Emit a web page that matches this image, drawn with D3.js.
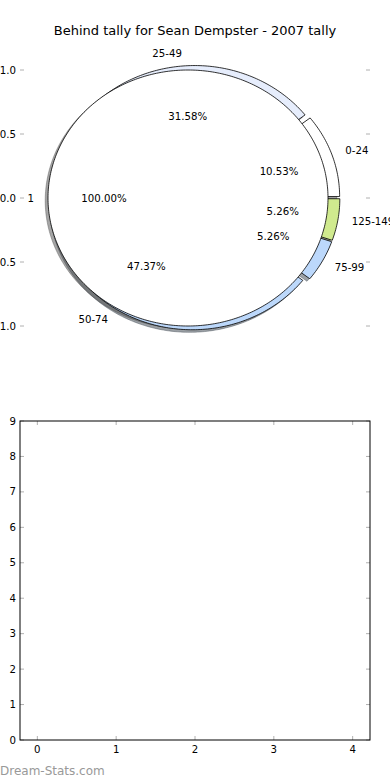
<!DOCTYPE html>
<html>
<head>
<meta charset="utf-8">
<script src="https://cdn.jsdelivr.net/npm/d3@7"></script>
<style>
  html, body { margin: 0; padding: 0; background: #fff; }
  svg { display: block; font-family: "DejaVu Sans", sans-serif; }
</style>
</head>
<body>
<svg id="chart" width="390" height="780"></svg>
<script>
// ---- data ----
const title = "Behind tally for Sean Dempster - 2007 tally";
const outerCategories = ["0-24", "25-49", "50-74", "75-99", "125-149"];
const outerValues = [2, 6, 9, 1, 1];
const outerColors = ["#ffffff", "#e6edfc", "#bcd8fb", "#bcd8fb", "#d0ea8e"];
const innerCategories = ["1"];
const innerValues = [19];
const innerColors = ["#ffffff"];
const pieYTicks = [-1.0, -0.5, 0.0, 0.5, 1.0];
const barXTicks = [0, 1, 2, 3, 4];
const barYTicks = [0, 1, 2, 3, 4, 5, 6, 7, 8, 9];
const watermark = "Dream-Stats.com";

// ---- setup ----
const svg = d3.select("#chart");
const tickColor = "#b0b0b0";
const fs = 10.2;

// title
svg.append("text").attr("x", 195).attr("y", 30).attr("text-anchor", "middle")
  .attr("dominant-baseline", "central").attr("font-size", 13).attr("fill", "#000").text(title);

// ---- pie axes ----
const px = d3.scaleLinear().domain([-1.25, 1.25]).range([20, 370]);
const py = d3.scaleLinear().domain([-1.25, 1.25]).range([358, 38]);

const gPie = svg.append("g");
pieYTicks.forEach(t => {
  gPie.append("line").attr("x1", 20).attr("x2", 24).attr("y1", py(t)).attr("y2", py(t))
    .attr("stroke", tickColor).attr("stroke-width", 1);
  gPie.append("line").attr("x1", 366).attr("x2", 370).attr("y1", py(t)).attr("y2", py(t))
    .attr("stroke", tickColor).attr("stroke-width", 1);
  gPie.append("text").attr("x", 16).attr("y", py(t)).attr("text-anchor", "end")
    .attr("dominant-baseline", "central").attr("font-size", fs)
    .text(t.toFixed(1).replace("-", "\u2212"));
});

function wedgeData(values, categories, colors, radius, explode) {
  const total = d3.sum(values);
  const pie = d3.pie().sort(null).value(d => d).startAngle(0).endAngle(2 * Math.PI);
  return pie(values).map((p, i) => {
    const a0 = p.startAngle, a1 = p.endAngle, am = (a0 + a1) / 2;
    const cx = explode * Math.cos(am), cy = explode * Math.sin(am);
    return { a0, a1, am, cx, cy, r: radius, cat: categories[i], color: colors[i],
             pct: values[i] / total * 100 };
  });
}
function wedgePts(w, dx, dy) {
  const pts = [];
  const full = (w.a1 - w.a0) >= 2 * Math.PI - 1e-9;
  if (!full) pts.push([w.cx + dx, w.cy + dy]);
  const n = Math.max(8, Math.ceil((w.a1 - w.a0) / (Math.PI / 180)));
  for (let k = 0; k <= n; k++) {
    const a = w.a0 + (w.a1 - w.a0) * k / n;
    pts.push([w.cx + dx + w.r * Math.cos(a), w.cy + dy + w.r * Math.sin(a)]);
  }
  return pts;
}
const lineGen = d3.line().x(d => px(d[0])).y(d => py(d[1]));
function shadowColor(c) {
  const rgb = d3.rgb(c);
  return `rgba(${Math.round(rgb.r * 0.3)},${Math.round(rgb.g * 0.3)},${Math.round(rgb.b * 0.3)},0.5)`;
}

const outer = wedgeData(outerValues, outerCategories, outerColors, 1.0, 0.035);
const inner = wedgeData(innerValues, innerCategories, innerColors, 1.0, 0.05);
const all = outer.concat(inner);

all.forEach(w => {
  const sc = shadowColor(w.color);
  gPie.append("path").attr("d", lineGen(wedgePts(w, -0.02, -0.02)) + "Z")
    .attr("fill", sc).attr("stroke", sc).attr("stroke-width", 0.8);
});
all.forEach(w => {
  gPie.append("path").attr("d", lineGen(wedgePts(w, 0, 0)) + "Z")
    .attr("fill", w.color).attr("stroke", "#000").attr("stroke-width", 0.8)
    .attr("stroke-linejoin", "round");
});
all.forEach(w => {
  const lx = w.cx + 1.1 * w.r * Math.cos(w.am), ly = w.cy + 1.1 * w.r * Math.sin(w.am);
  gPie.append("text").attr("x", px(lx)).attr("y", py(ly))
    .attr("text-anchor", lx > 0 ? "start" : "end").attr("dominant-baseline", "central")
    .attr("font-size", fs).text(w.cat);
  const tx = w.cx + 0.6 * w.r * Math.cos(w.am), ty = w.cy + 0.6 * w.r * Math.sin(w.am);
  gPie.append("text").attr("x", px(tx)).attr("y", py(ty))
    .attr("text-anchor", "middle").attr("dominant-baseline", "central")
    .attr("font-size", fs).text(w.pct.toFixed(2) + "%");
});

// ---- bottom axes ----
const bx = d3.scaleLinear().domain([-0.22, 4.22]).range([20, 370]);
const by = d3.scaleLinear().domain([0, 9]).range([740, 421]);
const gB = svg.append("g");
barXTicks.forEach(t => {
  gB.append("line").attr("x1", bx(t)).attr("x2", bx(t)).attr("y1", 740).attr("y2", 736)
    .attr("stroke", tickColor);
  gB.append("line").attr("x1", bx(t)).attr("x2", bx(t)).attr("y1", 421).attr("y2", 425)
    .attr("stroke", tickColor);
  gB.append("text").attr("x", bx(t)).attr("y", 749).attr("text-anchor", "middle")
    .attr("dominant-baseline", "central").attr("font-size", fs).text(t);
});
barYTicks.forEach(t => {
  gB.append("line").attr("x1", 20).attr("x2", 24).attr("y1", by(t)).attr("y2", by(t))
    .attr("stroke", tickColor);
  gB.append("line").attr("x1", 366).attr("x2", 370).attr("y1", by(t)).attr("y2", by(t))
    .attr("stroke", tickColor);
  gB.append("text").attr("x", 16).attr("y", by(t)).attr("text-anchor", "end")
    .attr("dominant-baseline", "central").attr("font-size", fs).text(t);
});
gB.append("rect").attr("x", 20).attr("y", 421).attr("width", 350).attr("height", 319)
  .attr("fill", "none").attr("stroke", "#000").attr("stroke-width", 1);

svg.append("text").attr("x", 0).attr("y", 771).attr("dominant-baseline", "central")
  .attr("font-size", 12).attr("fill", "#999").text(watermark);
</script>
</body>
</html>
